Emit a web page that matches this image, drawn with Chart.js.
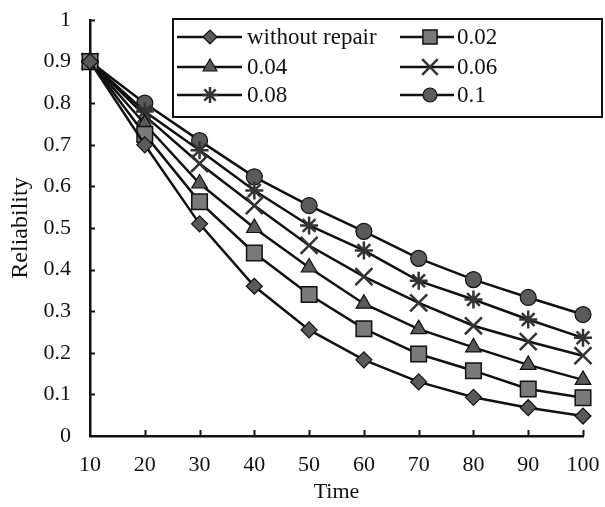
<!DOCTYPE html>
<html>
<head>
<meta charset="utf-8">
<script src="https://cdn.jsdelivr.net/npm/chart.js@4.4.1/dist/chart.umd.min.js"></script>
<style>
  html, body { margin: 0; padding: 0; background: #fff; }
  #wrap { width: 605px; height: 507px; position: relative; }
</style>
</head>
<body>
<div id="wrap"><canvas id="c" width="605" height="507"></canvas></div>
<script>
// Time points (x axis)
const times = [10, 20, 30, 40, 50, 60, 70, 80, 90, 100];

// Reliability for each repair rate
const withoutRepair = [0.90, 0.70, 0.51, 0.36, 0.255, 0.183, 0.13, 0.093, 0.068, 0.048];
const rate002 = [0.90, 0.725, 0.563, 0.44, 0.34, 0.258, 0.197, 0.157, 0.113, 0.092];
const rate004 = [0.90, 0.75, 0.607, 0.50, 0.405, 0.318, 0.257, 0.213, 0.171, 0.135];
const rate006 = [0.90, 0.77, 0.655, 0.554, 0.458, 0.383, 0.32, 0.265, 0.227, 0.193];
const rate008 = [0.90, 0.78, 0.687, 0.59, 0.506, 0.446, 0.373, 0.328, 0.28, 0.236];
const rate010 = [0.90, 0.80, 0.71, 0.623, 0.554, 0.492, 0.427, 0.376, 0.333, 0.292];

const seriesNames = ['without repair', '0.02', '0.04', '0.06', '0.08', '0.1'];
const seriesValues = [withoutRepair, rate002, rate004, rate006, rate008, rate010];

const xTicks = [10, 20, 30, 40, 50, 60, 70, 80, 90, 100];
const yTicks = [0, 0.1, 0.2, 0.3, 0.4, 0.5, 0.6, 0.7, 0.8, 0.9, 1];

const FONT = '"Liberation Serif", "Times New Roman", serif';
const INK = '#111';
const FILL = '#5a5a5a';

const markerStyles = [
  { pointStyle: 'rectRot',  radius: 8,  fill: FILL, border: INK, bw: 1.2 },
  { pointStyle: 'rect',     radius: 11, fill: '#7a7a7a', border: INK, bw: 1.5 },
  { pointStyle: 'triangle', radius: 9,  fill: FILL, border: INK, bw: 1.2 },
  { pointStyle: 'crossRot', radius: 12, fill: FILL, border: '#333', bw: 2.5 },
  { pointStyle: 'star',     radius: 9,  fill: FILL, border: '#333', bw: 2.5 },
  { pointStyle: 'circle',   radius: 8,  fill: FILL, border: INK, bw: 1.2 }
];

const datasets = seriesValues.map((vals, i) => ({
  label: seriesNames[i],
  data: times.map((t, j) => ({ x: t, y: vals[j] })),
  borderColor: INK,
  borderWidth: 2.5,
  pointStyle: markerStyles[i].pointStyle,
  pointRadius: markerStyles[i].radius,
  pointHoverRadius: markerStyles[i].radius,
  pointBackgroundColor: markerStyles[i].fill,
  pointBorderColor: markerStyles[i].border,
  pointBorderWidth: markerStyles[i].bw,
  tension: 0,
  fill: false,
  clip: false
}));

// Inward tick marks on both axes
const innerTicks = {
  id: 'innerTicks',
  beforeDatasetsDraw(chart) {
    const ctx = chart.ctx;
    const xs = chart.scales.x, ys = chart.scales.y;
    ctx.save();
    ctx.strokeStyle = INK;
    ctx.lineWidth = 2;
    yTicks.forEach(v => {
      if (v === 0) return;
      const py = Math.round(ys.getPixelForValue(v)) + 0.5;
      ctx.beginPath();
      ctx.moveTo(xs.left, py);
      ctx.lineTo(xs.left + 5, py);
      ctx.stroke();
    });
    xTicks.forEach(v => {
      if (v === xTicks[0]) return;
      const px = Math.round(xs.getPixelForValue(v)) + 0.5;
      ctx.beginPath();
      ctx.moveTo(px, ys.bottom);
      ctx.lineTo(px, ys.bottom - 6);
      ctx.stroke();
    });
    ctx.restore();
  }
};

// Two-column boxed legend inside the plot
function drawMarker(ctx, st, x, y) {
  ctx.fillStyle = st.fill;
  ctx.strokeStyle = st.border;
  ctx.lineWidth = st.bw;
  if (Chart.helpers && Chart.helpers.drawPoint) {
    Chart.helpers.drawPoint(ctx, { pointStyle: st.pointStyle, radius: st.radius, rotation: 0, borderWidth: st.bw }, x, y);
  }
}
const boxLegend = {
  id: 'boxLegend',
  afterDraw(chart) {
    const ctx = chart.ctx;
    ctx.save();
    const bx = 173, by = 19, bw = 429, bh = 98;
    ctx.fillStyle = '#fff';
    ctx.fillRect(bx, by, bw, bh);
    ctx.strokeStyle = INK;
    ctx.lineWidth = 2;
    ctx.strokeRect(bx, by, bw, bh);
    const rows = [37, 67, 95];
    const cols = [{ l0: 177, l1: 242, m: 210, t: 247 }, { l0: 400, l1: 454, m: 430, t: 457 }];
    ctx.font = '23px ' + FONT;
    ctx.textBaseline = 'middle';
    seriesNames.forEach((name, i) => {
      const c = cols[i % 2], y = rows[Math.floor(i / 2)];
      ctx.strokeStyle = INK;
      ctx.lineWidth = 2.5;
      ctx.beginPath();
      ctx.moveTo(c.l0, y);
      ctx.lineTo(c.l1, y);
      ctx.stroke();
      const st = Object.assign({}, markerStyles[i]);
      st.radius = Math.max(6, st.radius - 1);
      drawMarker(ctx, st, c.m, y);
      ctx.fillStyle = INK;
      ctx.fillText(name, c.t, y + 1);
    });
    ctx.restore();
  }
};

new Chart(document.getElementById('c'), {
  type: 'line',
  data: { datasets },
  plugins: [innerTicks, boxLegend],
  options: {
    responsive: false,
    animation: false,
    events: [],
    layout: { padding: { left: 6, right: 22, top: 20, bottom: 2 } },
    plugins: { legend: { display: false }, tooltip: { enabled: false } },
    scales: {
      x: {
        type: 'linear',
        min: 10, max: 100,
        afterBuildTicks: s => { s.ticks = xTicks.map(v => ({ value: v })); },
        afterFit: s => { s.height = 507 - 436 - 2; s.paddingLeft = 0; s.paddingRight = 0; },
        grid: { display: false, drawTicks: false },
        border: { display: true, color: INK, width: 2.5 },
        ticks: { color: INK, font: { family: FONT, size: 22 }, padding: 16, maxRotation: 0, autoSkip: false },
        title: { display: true, text: 'Time', color: INK, font: { family: FONT, size: 22 }, padding: { top: 0, bottom: 0 } }
      },
      y: {
        type: 'linear',
        min: 0, max: 1,
        afterBuildTicks: s => { s.ticks = yTicks.map(v => ({ value: v })); },
        afterFit: s => { s.width = 90 - 6; s.paddingTop = 0; s.paddingBottom = 0; },
        grid: { display: false, drawTicks: false },
        border: { display: true, color: INK, width: 2.5 },
        ticks: { color: INK, font: { family: FONT, size: 22 }, padding: 19, callback: v => String(+v.toFixed(1)), autoSkip: false },
        title: { display: true, text: 'Reliability', color: INK, font: { family: FONT, size: 24 }, padding: { top: 0, bottom: 0 } }
      }
    }
  }
});
</script>
</body>
</html>
